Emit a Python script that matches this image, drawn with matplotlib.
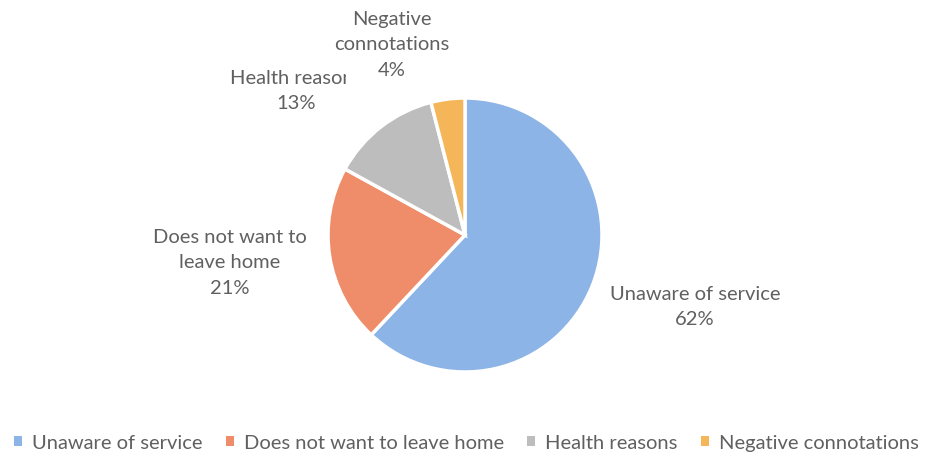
import matplotlib
matplotlib.use('Agg')
import matplotlib.pyplot as plt
from matplotlib.patches import Patch
from matplotlib.transforms import Bbox

plt.rcParams['font.family'] = ['Lato', 'DejaVu Sans']

# ---- data ----
labels = ['Unaware of service', 'Does not want to leave home', 'Health reasons', 'Negative connotations']
shares = [62, 21, 13, 4]
colors = ['#8db4e6', '#ef8c69', '#bdbdbd', '#f5b659']
text_col = '#606060'

W, H = 933, 461
fig = plt.figure(figsize=(W / 100, H / 100), dpi=100)

# pie axes: centre ~ (465, 235) px, radius ~137 px
cx, cy, r = 465, 235, 137
ax = fig.add_axes([(cx - r) / W, (H - cy - r) / H, 2 * r / W, 2 * r / H])
ax.pie(shares, colors=colors, startangle=90, counterclock=False,
       wedgeprops=dict(edgecolor='white', linewidth=2.5))
ax.set_xlim(-1, 1)
ax.set_ylim(-1, 1)
ax.set_aspect('equal')
ax.axis('off')

def px(x, y):
    return x / W, 1 - y / H

fs = 14.5
ls = 1.6
# data labels, placed like the Excel callouts
fig.text(*px(392, 45), 'Negative\nconnotations\n%d%%' % shares[3], ha='center', va='center',
         fontsize=fs, color=text_col, linespacing=ls)
t = fig.text(*px(296, 91), 'Health reasons\n%d%%' % shares[2], ha='center', va='center',
             fontsize=fs, color=text_col, linespacing=ls)
t.set_clip_box(Bbox([[0, 0], [346, H]]))
t.set_clip_on(True)
fig.text(*px(230, 263), 'Does not want to\nleave home\n%d%%' % shares[1], ha='center', va='center',
         fontsize=fs, color=text_col, linespacing=ls)
fig.text(*px(695, 307), 'Unaware of service\n%d%%' % shares[0], ha='center', va='center',
         fontsize=fs, color=text_col, linespacing=ls)

handles = [Patch(facecolor=c, edgecolor='none') for c in colors]
fig.legend(handles, labels, loc='center', bbox_to_anchor=(0.5, 1 - 443 / H), ncol=4,
           frameon=False, fontsize=fs, labelcolor=text_col,
           handlelength=0.4, handleheight=0.4, handletextpad=0.5, columnspacing=1.15)

fig.savefig('out.png', dpi=100)
